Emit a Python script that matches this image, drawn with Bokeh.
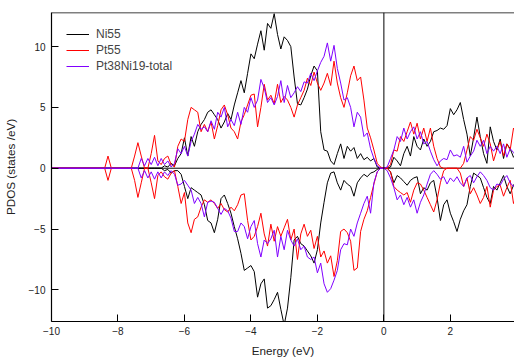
from bokeh.plotting import figure
from bokeh.models import Span, Range1d, Legend, LegendItem, FixedTicker
from bokeh.embed import file_html
from bokeh.resources import INLINE

# Energy grid (eV): a few leading points, then 0.1 eV steps from -7.6 to 4.0
lead_energy = [-10.0, -8.4, -8.3, -8.2, -7.7]
grid_energy = [round(-7.6 + 0.1 * i, 1) for i in range(117)]
energy = lead_energy + grid_energy

# Ni55 (black) spin up / spin down
ni_up = [0, 0, 0, 0, 0] + [
    0, 0, 0, 0, 0, 0, 0, 0, 0, 0,
    0.2, 0.1, 0.4, 0.2, 0.8, 1.2, 2.5, 1.0, 2.6, 1.8,
    3.0, 3.6, 4.0, 4.6, 4.8, 4.4, 4.0, 3.3, 3.8, 4.5,
    4.0, 5.2, 6.2, 7.2, 6.2, 7.8, 9.4, 9.0, 10.2, 11.3,
    9.7, 11.9, 11.5, 12.7, 11.0, 9.8, 10.8, 10.5, 10.0, 7.5,
    5.3, 5.2, 5.8, 6.5, 7.6, 8.4, 8.0, 3.0, 1.5, 1.4,
    0.6, 0.3, 1.2, 2.0, 0.8, 1.8, 1.4, 1.7, 0.8, 1.2,
    0.7, 0.9, 0.6, 0.8, 0.1, 0, 0, 0, 0.1, 0.9,
    0.6, 0.2, 1.2, 1.8, 1.0, 2.6, 1.8, 1.5, 2.4, 1.8,
    2.2, 3.0, 3.1, 3.3, 3.2, 3.5, 4.9, 4.4, 4.8, 5.4,
    4.0, 2.8, 1.0, 2.5, 4.2, 2.6, 1.2, 0.4, 3.4, 2.2,
    1.5, 2.4, 0.8, 2.0, 1.6, 0.9, 1.2,
]
ni_dn = [0, 0, 0, 0, 0] + [
    0, 0, 0, 0, 0, 0, 0, 0, 0, 0,
    -0.2, -0.1, -0.4, -0.2, -0.2, -0.5, -1.5, -2.5, -1.6, -1.8,
    -2.0, -2.2, -3.0, -4.3, -4.5, -5.3, -4.2, -2.5, -2.2, -2.9,
    -3.7, -4.8, -5.8, -7.0, -8.4, -8.2, -8.0, -8.5, -10.6, -9.5,
    -9.1, -11.5, -11.3, -10.8, -10.2, -11.6, -12.9, -11.5, -9.0, -5.9,
    -5.6, -6.2, -6.4, -6.8, -7.2, -7.8, -6.7, -4.5, -2.8, -1.2,
    -0.4, -0.3, -1.2, -1.8, -1.0, -1.3, -1.5, -2.3, -1.2, -0.8,
    -0.5, -0.7, -0.4, -0.3, -0.1, 0, 0, 0, -0.3, -1.2,
    -0.6, -0.8, -1.1, -1.4, -1.0, -0.8, -0.7, -2.1, -1.6, -1.8,
    -1.2, -1.0, -2.4, -4.3, -3.0, -2.6, -3.7, -4.4, -5.2, -4.2,
    -3.5, -3.0, -1.5, -0.4, -0.6, -0.8, -1.6, -2.4, -2.9, -1.5,
    -1.8, -1.2, -0.6, -1.5, -2.1, -1.4, -1.0,
]

# Pt55 (red)
pt_up = [0, 0, 1.0, 0, 0] + [
    0, 1.0, 2.1, 1.0, 0, 0, 1.2, 2.7, 0.6, 0.3,
    0.8, 1.0, 0.3, 0.1, 1.8, 2.4, 2.2, 4.0, 5.0, 4.8,
    4.6, 3.0, 3.6, 3.0, 3.8, 2.4, 3.5, 4.8, 5.2, 4.4,
    3.3, 3.0, 2.4, 3.8, 4.4, 5.2, 6.0, 6.1, 3.4, 5.0,
    6.9, 5.6, 6.0, 5.3, 6.9, 5.4, 5.9, 5.6, 5.0, 4.2,
    5.2, 5.8, 6.4, 7.4, 6.8, 7.9, 7.0, 6.4, 7.0, 7.8,
    6.8, 8.8, 7.0, 5.8, 5.0, 6.2, 7.6, 8.4, 7.2, 7.5,
    5.6, 3.3, 2.5, 1.5, 0.4, 0.1, 0, 0, 0.3, 1.5,
    1.4, 2.6, 2.2, 3.0, 3.8, 2.8, 3.7, 2.4, 3.3, 2.2,
    3.3, 1.8, 0.8, 0.1, 0, 0, 0, 0, 0, 0,
    0.4, 1.5, 2.6, 2.3, 3.2, 2.5, 1.8, 2.8, 2.0, 0.6,
    1.5, 2.2, 1.0, 2.0, 1.5, 3.3, 2.8,
]
pt_dn = [0, 0, -1.0, 0, 0] + [
    0, -1.0, -2.4, -1.2, 0, 0, -1.2, -2.5, -0.6, -0.3,
    -0.7, -0.9, -0.4, -0.2, -1.5, -2.9, -2.0, -4.5, -5.3, -4.2,
    -4.0, -3.2, -2.6, -2.8, -2.6, -2.9, -3.3, -2.9, -3.4, -3.6,
    -3.2, -3.5, -3.0, -2.2, -2.1, -4.3, -5.9, -5.6, -4.8, -3.7,
    -5.4, -6.4, -4.6, -6.0, -4.8, -5.6, -4.9, -4.2, -5.9, -5.0,
    -7.5, -5.4, -4.6, -5.6, -5.1, -6.6, -5.6, -7.3, -6.8, -7.8,
    -7.2, -8.9, -7.6, -5.2, -5.0, -5.3, -6.0, -8.4, -8.2, -5.2,
    -4.2, -3.5, -2.4, -1.3, -0.3, 0, 0, 0, -0.3, -1.5,
    -1.8, -2.0, -2.2, -2.0, -2.8, -1.8, -1.2, -1.3, -1.8, -2.4,
    -3.0, -3.6, -2.6, -1.2, -0.2, 0, 0, 0, 0, -0.4,
    -1.5, -0.8, -2.1, -1.6, -2.2, -2.9, -2.4, -1.5, -3.2, -1.8,
    -1.5, -1.4, -2.3, -1.6, -1.0, -2.9, -2.2,
]

# Pt38Ni19-total (purple)
pn_up = [0, 0, 0, 0, 0] + [
    0, 0, 0, 0.8, 0.2, 0.8, 0.3, 0.9, 0.2, 0.8,
    0.3, 0.6, 0.1, 0.4, 1.6, 1.2, 1.8, 1.0, 2.2, 2.8,
    3.6, 3.2, 3.4, 3.0, 3.9, 3.2, 4.6, 4.2, 5.0, 3.4,
    4.0, 3.5, 4.6, 3.6, 5.0, 4.6, 5.8, 5.0, 5.6, 7.3,
    6.6, 5.4, 5.8, 5.2, 5.9, 7.2, 5.4, 6.8, 5.8, 6.2,
    6.7, 6.3, 7.1, 7.0, 7.8, 7.2, 8.0, 8.7, 9.2, 10.3,
    8.8, 10.1, 8.2, 7.0, 5.6, 5.8, 5.0, 3.4, 4.6, 4.2,
    2.6, 2.9, 1.6, 0.8, 0.2, 0, 0, 0.1, 0.8, 1.5,
    2.6, 2.2, 3.3, 2.4, 3.0, 3.4, 2.4, 3.0, 2.0, 2.2,
    1.4, 0.7, 0.2, 0.6, 0.8, 0.7, 1.5, 1.0, 1.1, 0.9,
    1.8, 0.5, 1.0, 1.4, 2.3, 1.8, 2.3, 1.2, 1.8, 1.4,
    1.8, 1.2, 2.0, 0.9, 1.6, 1.3, 0.9,
]
pn_dn = [0, 0, 0, 0, 0] + [
    0, 0, 0, -0.8, -0.2, -0.8, -0.3, -0.9, -0.3, -0.8,
    -0.3, -0.6, -0.2, -0.5, -1.4, -1.3, -1.0, -1.4, -1.8, -2.9,
    -2.4, -2.9, -4.0, -2.8, -2.7, -2.8, -3.3, -3.8, -3.3, -3.5,
    -4.1, -5.2, -5.2, -4.5, -4.8, -5.8, -4.8, -4.3, -6.2, -7.3,
    -5.9, -6.2, -5.8, -5.1, -7.3, -5.6, -6.7, -5.1, -5.9, -6.4,
    -5.8, -6.7, -6.4, -7.3, -7.5, -7.3, -8.6, -7.8, -9.5, -10.2,
    -9.9, -9.2, -8.4, -6.7, -6.2, -6.3, -5.0, -5.6, -4.5, -3.7,
    -2.9, -2.3, -3.7, -1.2, -0.3, 0, 0, -0.2, -0.8, -1.6,
    -2.6, -2.2, -3.0, -2.4, -3.2, -2.6, -3.7, -2.8, -2.2, -1.3,
    -0.5, -0.2, -0.5, -0.9, -0.7, -1.3, -0.8, -1.1, -0.7, -1.2,
    -1.5, -0.8, -0.6, -1.2, -0.7, -0.3, -0.6, -1.0, -1.6, -1.8,
    -1.3, -1.4, -0.9, -0.6, -1.2, -1.5, -1.0,
]

series_names = ["Ni55", "Pt55", "Pt38Ni19-total"]
series_colors = ["black", "#ff0000", "#8000ff"]
x_ticks = [-10, -8, -6, -4, -2, 0, 2, 4]
y_ticks = [-10, -5, 0, 5, 10]
X_MIN, X_MAX = -10, 3.93
Y_MIN, Y_MAX = -12.6, 12.8

FONT = "Liberation Sans"

p = figure(width=514, height=359, output_backend="svg", toolbar_location=None,
           x_range=Range1d(X_MIN, X_MAX), y_range=Range1d(Y_MIN, Y_MAX),
           min_border_left=50, min_border_right=0, min_border_top=12,
           min_border_bottom=37)
p.outline_line_color = None
p.grid.visible = False
p.background_fill_color = "white"
p.border_fill_color = "white"

p.add_layout(Span(location=0, dimension="width", line_color="black",
                  line_width=1, level="underlay"))

renderers = []
for up, dn, color in [(ni_up, ni_dn, series_colors[0]),
                      (pt_up, pt_dn, series_colors[1]),
                      (pn_up, pn_dn, series_colors[2])]:
    r = p.line(energy, up, line_color=color, line_width=1)
    p.line(energy, dn, line_color=color, line_width=1)
    renderers.append(r)

p.add_layout(Span(location=0, dimension="height", line_color="black", line_width=1))
p.add_layout(Span(location=Y_MAX, dimension="width", line_color="black", line_width=1.5))

for ax in (p.xaxis[0], p.yaxis[0]):
    ax.axis_line_color = "black"
    ax.axis_line_width = 1.2
    ax.major_tick_in = 7
    ax.major_tick_out = 0
    ax.major_tick_line_color = "black"
    ax.minor_tick_line_color = None
    ax.major_label_text_font = FONT
    ax.major_label_text_font_size = "10px"
    ax.major_label_text_color = "#222222"
    ax.axis_label_text_font = FONT
    ax.axis_label_text_font_size = "11.7px"
    ax.axis_label_text_font_style = "normal"
    ax.axis_label_text_color = "#222222"

p.xaxis.ticker = FixedTicker(ticks=x_ticks)
p.yaxis.ticker = FixedTicker(ticks=y_ticks)
p.xaxis.axis_label = "Energy (eV)"
p.yaxis.axis_label = "PDOS (states /eV)"
p.xaxis.major_label_standoff = 5
p.xaxis.axis_label_standoff = 6
p.yaxis.major_label_standoff = 6
p.yaxis.axis_label_standoff = 9

legend = Legend(items=[LegendItem(label=n, renderers=[r]) for n, r in zip(series_names, renderers)],
                location="top_left", margin=15, padding=0, spacing=2,
                glyph_width=23, glyph_height=12, label_height=12,
                label_standoff=7, label_text_font=FONT, label_text_font_size="12px",
                border_line_color=None, background_fill_alpha=0)
p.add_layout(legend)

open("out.html", "w").write(file_html(p, INLINE))
